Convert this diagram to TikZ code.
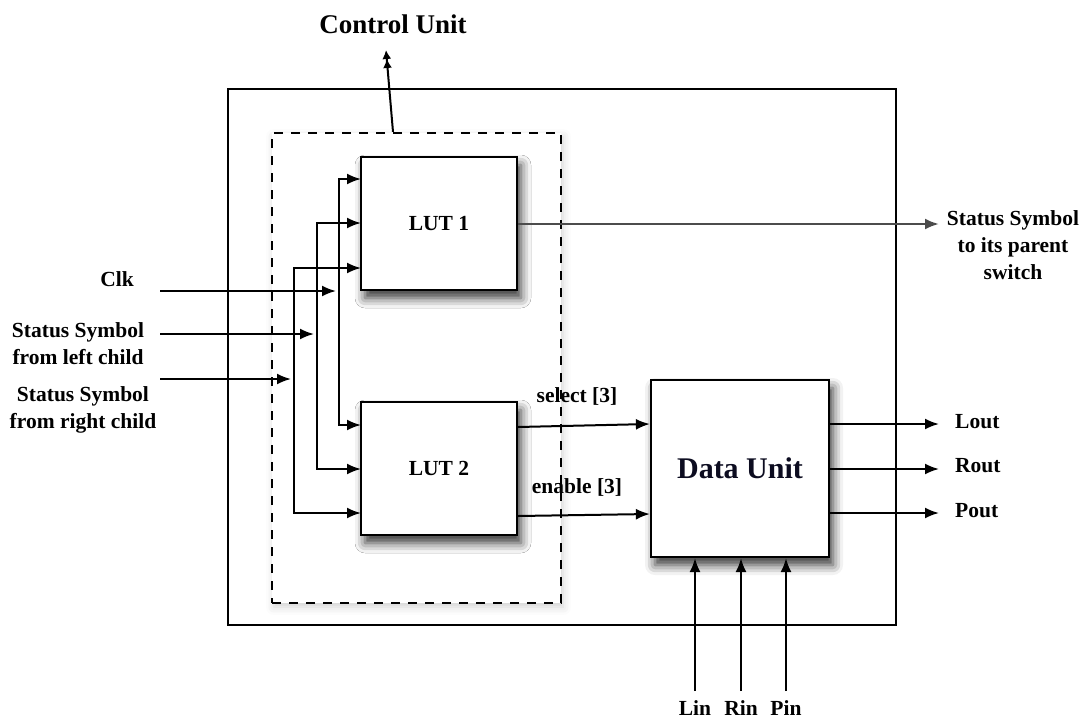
\documentclass[tikz,border=0pt]{standalone}
\usepackage{fontspec}
\setmainfont{Liberation Serif}
\usetikzlibrary{arrows.meta,shadows.blur,calc}

\begin{document}
\begin{tikzpicture}[x=1pt,y=-1pt,
  wire/.style={line width=2pt},
  tip/.tip={Latex[length=14pt,width=11pt]},
  arr/.style={wire,-tip},
  both/.style={wire,tip-tip},
  blk/.style={draw,line width=2.2pt,fill=white,inner sep=0pt,
    blur shadow={shadow xshift=4pt,shadow yshift=-8pt,shadow blur radius=10pt,shadow opacity=80}},
  lbl/.style={font=\fontsize{21.5}{27}\selectfont\bfseries,inner sep=0pt,align=center},
]
\useasboundingbox (0,0) rectangle (1085,721);

% switch outline and control-unit region
\node[draw,line width=2pt,minimum width=668pt,minimum height=536pt,inner sep=0pt] (sw) at (562,357) {};
\node[draw,line width=2.2pt,dash pattern=on 9pt off 8pt,inner sep=0pt,
      minimum width=289pt,minimum height=470pt,
      blur shadow={shadow xshift=2pt,shadow yshift=-4pt,shadow blur radius=8pt,shadow opacity=18},fill=white] (cu) at (416.5,368) {};

% blocks
\node[blk,lbl,minimum width=156pt,minimum height=133pt] (lut1) at (439,223.5) {LUT 1};
\node[blk,lbl,minimum width=156pt,minimum height=133pt] (lut2) at (439,468.5) {LUT 2};
\node[blk,minimum width=178pt,minimum height=177pt,
      font=\fontsize{30}{34}\selectfont\bfseries,text={rgb,255:red,12;green,12;blue,32}] (du) at (740,468.5) {Data Unit};

% labels
\node[lbl,font=\fontsize{27}{30}\selectfont\bfseries] (cutxt) at (393,24) {Control Unit};
\node[lbl] (clk) at (117,279) {Clk};
\node[lbl] (lch) at (78,343.5) {Status Symbol\\from left child};
\node[lbl] (rch) at (83,410) {Status Symbol\\from right child};
\node[lbl] (par) at (1013,245) {Status Symbol\\to its parent\\switch};
\node[lbl,anchor=west] (lout) at (955,422) {Lout};
\node[lbl,anchor=west] (rout) at (955,466) {Rout};
\node[lbl,anchor=west] (pout) at (955,511) {Pout};
\node[lbl] (lin) at (695,708) {Lin};
\node[lbl] (rin) at (741,708) {Rin};
\node[lbl] (pin) at (786,708) {Pin};
\node[lbl] (sel) at (577,396) {select [3]};
\node[lbl] (ena) at (577,487) {enable [3]};

% wiring points
\coordinate (cuhead) at (386,50);
\coordinate (b1) at (339,0);
\coordinate (b2) at (317,0);
\coordinate (b3) at (294,0);
\coordinate (p11) at (361,179);
\coordinate (p12) at (361,223);
\coordinate (p13) at (361,268);
\coordinate (p21) at (361,425);
\coordinate (p22) at (361,469);
\coordinate (p23) at (361,513);
\coordinate (clkin) at (160,291);
\coordinate (clktip) at (336,291);
\coordinate (lchin) at (160,334);
\coordinate (lchtip) at (314,334);
\coordinate (rchin) at (160,379);
\coordinate (rchtip) at (291,379);
\coordinate (parend) at (939,224);
\coordinate (oend) at (939,0);

% control unit output (double head)
\draw[wire,-{Latex[length=9pt,width=9pt]Latex[length=9pt,width=9pt]}] (cu.north -| 393,0) -- (cuhead);

% inputs into the LUT buses
\draw[arr] (clkin) -- (clktip);
\draw[arr] (lchin) -- (lchtip);
\draw[arr] (rchin) -- (rchtip);

% buses feeding both LUTs
\draw[both] (p11) -- (p11 -| b1) -- (p21 -| b1) -- (p21);
\draw[both] (p12) -- (p12 -| b2) -- (p22 -| b2) -- (p22);
\draw[both] (p13) -- (p13 -| b3) -- (p23 -| b3) -- (p23);

% outputs
\draw[arr,black!70,line width=2.4pt] (lut1.east |- parend) -- (parend);
\draw[arr] (lut2.east |- 0,427) -- (du.west |- 0,424);
\draw[arr] (lut2.east |- 0,516) -- (du.west |- 0,514);
\draw[arr] (du.east |- 0,424) -- (oend |- 0,424);
\draw[arr] (du.east |- 0,469) -- (oend |- 0,469);
\draw[arr] (du.east |- 0,513) -- (oend |- 0,513);

% data unit inputs
\draw[arr] (lin.north |- 0,691) -- (du.south -| lin.north);
\draw[arr] (rin.north |- 0,691) -- (du.south -| rin.north);
\draw[arr] (pin.north |- 0,691) -- (du.south -| pin.north);
\end{tikzpicture}
\end{document}
